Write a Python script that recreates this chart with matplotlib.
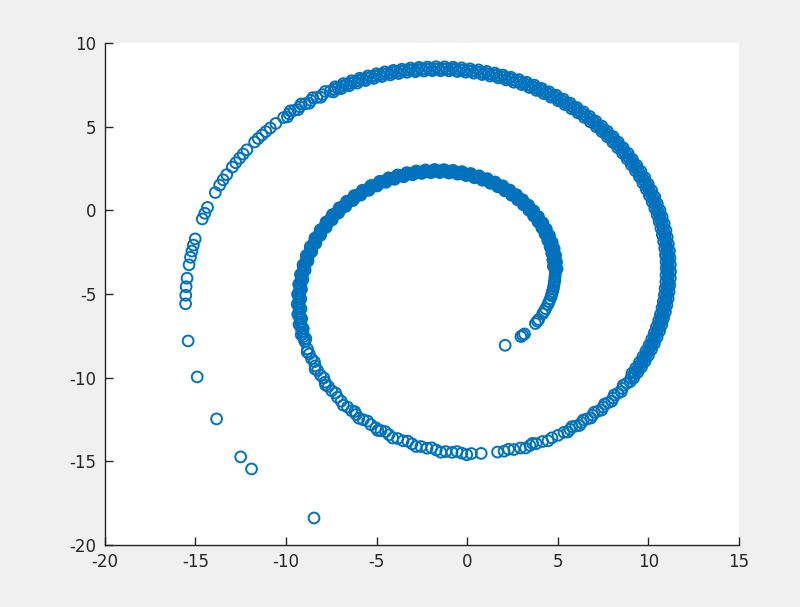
import numpy as np
import matplotlib
matplotlib.use("Agg")
import matplotlib.pyplot as plt

# points, ordered along the spiral (inner end -> outer end)
inner_tail_x = [2.10, 2.97, 3.07, 3.17, 3.77, 3.88, 3.95, 4.17, 4.26, 4.34, 4.46, 4.53,
                4.59, 4.65, 4.68, 4.72, 4.75, 4.78, 4.80, 4.82, 4.84, 4.85, 4.86, 4.87]
inner_tail_y = [-8.06, -7.54, -7.46, -7.38, -6.76, -6.62, -6.52, -6.18, -6.03, -5.87, -5.62, -5.45,
                -5.28, -5.10, -4.97, -4.84, -4.70, -4.56, -4.42, -4.28, -4.14, -3.99, -3.85, -3.71]

inner_band_x = [4.87, 4.87, 4.86, 4.84, 4.81, 4.78, 4.74, 4.69, 4.64, 4.58,
                4.51, 4.43, 4.34, 4.25, 4.15, 4.04, 3.93, 3.81, 3.68, 3.54,
                3.40, 3.25, 3.10, 2.93, 2.76, 2.59, 2.41, 2.22, 2.03, 1.83,
                1.63, 1.42, 1.20, 0.98, 0.76, 0.54, 0.31, 0.07, -0.17, -0.41,
                -0.65, -0.90, -1.14, -1.39, -1.64, -1.90, -2.15, -2.40, -2.66, -2.91,
                -3.16, -3.42, -3.67, -3.92, -4.17, -4.41, -4.66, -4.90, -5.13, -5.37,
                -5.60, -5.82, -6.05, -6.26, -6.47, -6.68, -6.88, -7.08, -7.26, -7.45,
                -7.62, -7.79, -7.95, -8.10, -8.24, -8.38, -8.50, -8.62, -8.73, -8.83,
                -8.92, -9.00, -9.07, -9.13, -9.18, -9.22, -9.25, -9.27, -9.28, -9.28,
                -9.26, -9.24, -9.20, -9.16, -9.10, -9.03, -8.95]
inner_band_y = [-3.61, -3.41, -3.22, -3.02, -2.82, -2.63, -2.43, -2.23, -2.04, -1.84,
                -1.65, -1.46, -1.27, -1.08, -0.89, -0.71, -0.53, -0.35, -0.18, 0.00,
                0.16, 0.33, 0.48, 0.64, 0.78, 0.93, 1.06, 1.20, 1.32, 1.44,
                1.55, 1.66, 1.76, 1.85, 1.94, 2.01, 2.08, 2.15, 2.20, 2.25,
                2.29, 2.32, 2.34, 2.35, 2.36, 2.35, 2.34, 2.32, 2.28, 2.24,
                2.19, 2.14, 2.07, 1.99, 1.91, 1.81, 1.71, 1.60, 1.48, 1.35,
                1.21, 1.06, 0.91, 0.74, 0.57, 0.39, 0.20, 0.01, -0.20, -0.41,
                -0.62, -0.85, -1.08, -1.32, -1.56, -1.81, -2.06, -2.33, -2.59, -2.86,
                -3.13, -3.41, -3.69, -3.98, -4.27, -4.56, -4.85, -5.15, -5.45, -5.75,
                -6.05, -6.35, -6.65, -6.95, -7.25, -7.54, -7.84]

# more circles in the inner band (the band is wider than one circle)
inner_band2_x = [4.97, 4.76, 4.94, 4.73, 4.89, 4.67, 4.81, 4.58, 4.70, 4.45,
                 4.55, 4.30, 4.38, 4.12, 4.18, 3.91, 3.94, 3.67, 3.68, 3.41,
                 3.39, 3.11, 3.07, 2.79, 2.73, 2.45, 2.36, 2.08, 1.97, 1.69,
                 1.55, 1.28, 1.12, 0.85, 0.67, 0.40, 0.20, -0.06, -0.28, -0.53,
                 -0.78, -1.01, -1.28, -1.51, -1.79, -2.00, -2.30, -2.50, -2.81, -3.00,
                 -3.33, -3.50, -3.84, -4.00, -4.34, -4.48, -4.83, -4.96, -5.31, -5.42,
                 -5.78, -5.87, -6.23, -6.30, -6.65, -6.70, -7.06, -7.09, -7.44, -7.45,
                 -7.79, -7.78, -8.11, -8.08, -8.40, -8.35, -8.66, -8.58, -8.88, -8.78,
                 -9.06, -8.94, -9.20, -9.06, -9.30, -9.14, -9.36, -9.18, -9.38, -9.17,
                 -9.35, -9.13, -9.28, -9.04, -9.16, -8.90]
inner_band2_y = [-3.49, -3.34, -3.09, -2.95, -2.69, -2.56, -2.29, -2.18, -1.90, -1.79,
                 -1.50, -1.41, -1.12, -1.04, -0.74, -0.68, -0.37, -0.33, -0.02, 0.01,
                 0.32, 0.33, 0.64, 0.63, 0.94, 0.91, 1.22, 1.17, 1.47, 1.41,
                 1.70, 1.62, 1.90, 1.80, 2.07, 1.95, 2.21, 2.08, 2.32, 2.17,
                 2.40, 2.23, 2.44, 2.26, 2.45, 2.25, 2.42, 2.21, 2.36, 2.13,
                 2.26, 2.01, 2.12, 1.86, 1.95, 1.68, 1.74, 1.46, 1.49, 1.20,
                 1.21, 0.91, 0.89, 0.59, 0.55, 0.24, 0.16, -0.15, -0.25, -0.57,
                 -0.69, -1.01, -1.16, -1.48, -1.65, -1.97, -2.17, -2.48, -2.70, -3.02,
                 -3.26, -3.57, -3.83, -4.13, -4.41, -4.71, -5.01, -5.29, -5.61, -5.88,
                 -6.21, -6.47, -6.82, -7.07, -7.43, -7.66]
inner_band3_x = [4.87, 4.86, 4.84, 4.83, 4.80, 4.76, 4.72, 4.67, 4.61, 4.54,
                 4.46, 4.38, 4.30, 4.20, 4.10, 3.99, 3.87, 3.74, 3.61, 3.48,
                 3.33, 3.17, 3.01, 2.84, 2.68, 2.50, 2.32, 2.12, 1.93, 1.73,
                 1.52, 1.31, 1.09, 0.87, 0.65, 0.42, 0.19, -0.05, -0.29, -0.53,
                 -0.78, -1.02, -1.27, -1.52, -1.77, -2.02, -2.28, -2.53, -2.78, -3.03,
                 -3.29, -3.54, -3.80, -4.05, -4.29, -4.53, -4.78, -5.02, -5.25, -5.48,
                 -5.71, -5.94, -6.16, -6.37, -6.58, -6.78, -6.98, -7.17, -7.36, -7.54,
                 -7.70, -7.87, -8.02, -8.17, -8.31, -8.45, -8.56, -8.68, -8.78, -8.88,
                 -8.96, -9.04, -9.10, -9.16, -9.20, -9.24, -9.26, -9.28, -9.28, -9.27,
                 -9.25, -9.23, -9.18, -9.14, -9.07, -8.99]
inner_band3_y = [-3.51, -3.32, -3.12, -2.92, -2.72, -2.53, -2.33, -2.14, -1.94, -1.74,
                 -1.55, -1.36, -1.18, -0.98, -0.80, -0.62, -0.44, -0.26, -0.09, 0.08,
                 0.24, 0.41, 0.56, 0.71, 0.86, 1.00, 1.13, 1.26, 1.38, 1.50,
                 1.61, 1.71, 1.81, 1.90, 1.97, 2.05, 2.11, 2.18, 2.22, 2.27,
                 2.30, 2.33, 2.34, 2.36, 2.35, 2.35, 2.33, 2.30, 2.27, 2.22,
                 2.17, 2.10, 2.03, 1.95, 1.86, 1.76, 1.66, 1.54, 1.41, 1.28,
                 1.14, 0.98, 0.82, 0.66, 0.49, 0.30, 0.10, -0.09, -0.30, -0.52,
                 -0.74, -0.97, -1.20, -1.44, -1.69, -1.94, -2.20, -2.46, -2.72, -3.00,
                 -3.28, -3.56, -3.84, -4.12, -4.41, -4.71, -5.01, -5.30, -5.60, -5.90,
                 -6.19, -6.49, -6.80, -7.10, -7.40, -7.70]

lower_chain_x = [-8.81, -8.71, -8.59, -8.39, -8.25, -8.09, -7.84, -7.66, -7.47, -7.16,
                 -6.95, -6.60, -6.37, -6.12, -5.73, -5.32, -5.04, -4.75, -4.31, -3.84,
                 -3.53, -3.04, -2.55, -2.21, -1.70, -1.18, -0.83, -0.29, 0.24, 0.78,
                 1.68, 2.04, 2.58, 2.94, 3.47, 3.82, 4.17, 4.68, 5.02]
lower_chain_y = [-8.28, -8.58, -8.86, -9.29, -9.57, -9.85, -10.26, -10.52, -10.78, -11.16,
                 -11.40, -11.75, -11.98, -12.20, -12.51, -12.80, -12.99, -13.16, -13.41, -13.63,
                 -13.77, -13.95, -14.11, -14.21, -14.32, -14.41, -14.46, -14.51, -14.53, -14.52,
                 -14.44, -14.39, -14.29, -14.20, -14.05, -13.94, -13.81, -13.59, -13.44]
lower_chain2_x = [-8.83, -8.43, -8.39, -7.91, -7.81, -7.26, -6.83, -6.20, -5.97, -5.49,
                  -4.93, -4.50, -4.11, -3.27, -2.82, -1.95, -1.45, -0.56, -0.02,
                  2.29, 3.23, 3.61, 4.47]
lower_chain2_y = [-8.46, -9.04, -9.48, -10.01, -10.44, -10.91, -11.64, -12.02, -12.42, -12.59,
                  -13.15, -13.22, -13.60, -13.79, -14.11, -14.19, -14.45, -14.41, -14.60,
                  -14.27, -14.20, -13.92, -13.77]

outer_band_x = [5.35, 5.68, 6.00, 6.32, 6.63, 6.93, 7.22, 7.51, 7.79, 8.06, 8.32, 8.57, 8.81,
                9.04, 9.15, 9.26, 9.37, 9.47, 9.57, 9.67, 9.76, 9.86, 9.94,
                10.03, 10.11, 10.19, 10.27, 10.34, 10.41, 10.48, 10.54, 10.60, 10.66,
                10.71, 10.76, 10.81, 10.85, 10.90, 10.93, 10.97, 11.00, 11.02, 11.04, 11.06,
                11.08, 11.09, 11.10, 11.10, 11.11, 11.10, 11.10, 11.09, 11.07, 11.06,
                11.04, 11.01, 10.98, 10.95, 10.92, 10.88, 10.84, 10.79, 10.74, 10.68,
                10.63, 10.57, 10.50, 10.43, 10.36, 10.29, 10.21, 10.12, 10.04, 9.95,
                9.85, 9.76, 9.66, 9.55, 9.45, 9.33, 9.22, 9.10, 8.98, 8.86,
                8.73, 8.60, 8.47, 8.33, 8.19, 8.05, 7.90, 7.75, 7.60, 7.44,
                7.28, 7.12, 6.96, 6.79, 6.62, 6.45, 6.27, 6.09, 5.91, 5.73,
                5.54, 5.36, 5.17, 4.97, 4.78, 4.58, 4.38, 4.18, 3.98, 3.77,
                3.57, 3.36, 3.15, 2.93, 2.72, 2.50, 2.29, 2.07, 1.85, 1.63,
                1.40, 1.18, 0.95, 0.73, 0.50, 0.27, 0.04, -0.19, -0.42, -0.65,
                -0.88, -1.12, -1.35, -1.58, -1.82, -2.05, -2.28, -2.52, -2.75, -2.99,
                -3.22, -3.46, -3.69, -3.92, -4.16, -4.39, -4.62, -4.85, -5.08, -5.31,
                -5.54, -5.77, -6.00, -6.22, -6.45, -6.67, -6.89, -7.12, -7.33, -7.55,
                -7.98, -8.30, -8.62, -8.93, -9.24, -9.54, -9.83, -10.13]
outer_band_y = [-13.26, -13.08, -12.89, -12.68, -12.46, -12.24, -12.00, -11.75, -11.49, -11.21,
                -10.93, -10.64, -10.34,
                -10.03, -9.87, -9.71, -9.55, -9.39, -9.22, -9.05, -8.88, -8.71, -8.54,
                -8.36, -8.19, -8.01, -7.83, -7.64, -7.46, -7.27, -7.09, -6.90, -6.71,
                -6.52, -6.33, -6.14, -5.94, -5.75, -5.55, -5.36, -5.16, -4.96, -4.76, -4.56,
                -4.36, -4.16, -3.96, -3.76, -3.55, -3.35, -3.15, -2.95, -2.74, -2.54,
                -2.34, -2.14, -1.93, -1.73, -1.53, -1.33, -1.13, -0.93, -0.72, -0.53,
                -0.33, -0.13, 0.07, 0.27, 0.46, 0.66, 0.85, 1.04, 1.23, 1.42,
                1.61, 1.80, 1.99, 2.17, 2.35, 2.53, 2.71, 2.89, 3.07, 3.24,
                3.42, 3.58, 3.75, 3.92, 4.08, 4.25, 4.41, 4.56, 4.72, 4.87,
                5.02, 5.17, 5.31, 5.45, 5.59, 5.73, 5.86, 5.99, 6.12, 6.25,
                6.37, 6.49, 6.60, 6.72, 6.83, 6.93, 7.04, 7.14, 7.23, 7.33,
                7.42, 7.50, 7.59, 7.67, 7.74, 7.81, 7.88, 7.95, 8.01, 8.07,
                8.12, 8.17, 8.21, 8.26, 8.30, 8.33, 8.36, 8.39, 8.41, 8.43,
                8.45, 8.46, 8.47, 8.47, 8.47, 8.46, 8.45, 8.44, 8.42, 8.40,
                8.38, 8.35, 8.31, 8.28, 8.24, 8.19, 8.14, 8.09, 8.03, 7.97,
                7.90, 7.83, 7.76, 7.68, 7.60, 7.52, 7.43, 7.33, 7.24, 7.13,
                6.92, 6.75, 6.57, 6.38, 6.19, 5.98, 5.77, 5.55]
outer_band2_x = [5.56, 5.79, 6.21, 6.42, 6.83, 7.02, 7.43, 7.59, 7.99, 8.12, 8.51, 8.62, 9.00,
                 -7.83, -8.08, -8.52, -8.72, -9.16, -9.33, -9.76, -9.92]
outer_band2_y = [-13.24, -12.92, -12.85, -12.52, -12.41, -12.06, -11.93, -11.57, -11.40,
                 -11.03, -10.83, -10.45, -10.23,
                 7.11, 6.76, 6.74, 6.40, 6.36, 6.02, 5.95, 5.59]

# circles in between, slightly inside / outside the middle of the outer band
outer_band3_x = [9.20, 9.10, 9.42, 9.31, 9.63, 9.51, 9.83, 9.70, 10.01, 9.87,
                 10.18, 10.04, 10.34, 10.19, 10.49, 10.33, 10.63, 10.45, 10.75, 10.57,
                 10.85, 10.67, 10.95, 10.76, 11.03, 10.83, 11.10, 10.89, 11.15, 10.93,
                 11.19, 10.97, 11.22, 10.98, 11.23, 10.99, 11.22, 10.98, 11.20, 10.95,
                 11.17, 10.91, 11.11, 10.85, 11.05, 10.78, 10.98, 10.70, 10.88, 10.60,
                 10.77, 10.49, 10.65, 10.36, 10.50, 10.22, 10.36, 10.06, 10.19, 9.89,
                 10.00, 9.70, 9.81, 9.51, 9.60, 9.29, 9.37, 9.06, 9.13, 8.83,
                 8.89, 8.58, 8.62, 8.31, 8.35, 8.04, 8.06, 7.74, 7.75, 7.44,
                 7.44, 7.13, 7.11, 6.80, 6.77, 6.47, 6.43, 6.12, 6.06, 5.76,
                 5.69, 5.39, 5.32, 5.02, 4.93, 4.63, 4.53, 4.23, 4.12, 3.83,
                 3.71, 3.43, 3.29, 3.01, 2.86, 2.58, 2.42, 2.15, 1.98, 1.72,
                 1.53, 1.27, 1.08, 0.83, 0.63, 0.38, 0.16, -0.08, -0.30, -0.54,
                 -0.77, -1.00, -1.24, -1.46, -1.71, -1.92, -2.18, -2.38, -2.65, -2.85,
                 -3.13, -3.32, -3.60, -3.78, -4.07, -4.24, -4.54, -4.70, -5.00, -5.15,
                 -5.47, -5.61, -5.93, -6.06, -6.38, -6.51, -6.83, -6.95, -7.28, -7.38]
outer_band3_y = [-10.01, -9.73, -9.68, -9.42, -9.36, -9.09, -9.01, -8.75, -8.67, -8.41,
                 -8.31, -8.06, -7.96, -7.70, -7.58, -7.34, -7.21, -6.97, -6.83, -6.59,
                 -6.44, -6.22, -6.06, -5.83, -5.66, -5.45, -5.27, -5.05, -4.86, -4.66,
                 -4.46, -4.26, -4.05, -3.87, -3.65, -3.46, -3.24, -3.07, -2.83, -2.66,
                 -2.42, -2.26, -2.01, -1.86, -1.60, -1.46, -1.20, -1.07, -0.79, -0.66,
                 -0.39, -0.27, 0.01, 0.12, 0.41, 0.51, 0.81, 0.89, 1.19, 1.27,
                 1.57, 1.64, 1.96, 2.02, 2.33, 2.37, 2.69, 2.73, 3.05, 3.08,
                 3.41, 3.42, 3.74, 3.75, 4.08, 4.08, 4.41, 4.40, 4.73, 4.71,
                 5.04, 5.00, 5.33, 5.29, 5.62, 5.56, 5.89, 5.83, 6.15, 6.08,
                 6.41, 6.33, 6.65, 6.56, 6.88, 6.77, 7.09, 6.98, 7.29, 7.17,
                 7.49, 7.35, 7.66, 7.52, 7.82, 7.66, 7.96, 7.80, 8.09, 7.92,
                 8.21, 8.03, 8.31, 8.12, 8.40, 8.20, 8.46, 8.26, 8.52, 8.30,
                 8.56, 8.34, 8.58, 8.35, 8.59, 8.35, 8.57, 8.33, 8.55, 8.29,
                 8.51, 8.25, 8.44, 8.18, 8.37, 8.10, 8.28, 8.00, 8.17, 7.89,
                 8.04, 7.76, 7.90, 7.61, 7.75, 7.45, 7.58, 7.28, 7.39, 7.08]

outer_chain_x = [-10.56, -10.87, -11.11, -11.32, -11.53, -11.73, -12.16, -12.36, -12.56,
                 -12.77, -12.96, -13.27, -13.47, -13.66, -13.90, -14.33, -14.48, -14.62,
                 -15.01, -15.11, -15.19, -15.27, -15.35, -15.46, -15.51, -15.53, -15.54]
outer_chain_y = [5.20, 4.93, 4.71, 4.51, 4.30, 4.09, 3.62, 3.37, 3.12,
                 2.85, 2.59, 2.14, 1.83, 1.51, 1.07, 0.18, -0.17, -0.51,
                 -1.70, -2.07, -2.43, -2.80, -3.25, -4.05, -4.56, -5.07, -5.58]

outer_tail_x = [-15.40, -14.90, -13.83, -12.50, -11.90, -8.45]
outer_tail_y = [-7.80, -9.95, -12.46, -14.73, -15.45, -18.38]

x = np.concatenate([inner_tail_x, inner_band_x, inner_band2_x, inner_band3_x,
                    lower_chain_x, lower_chain2_x,
                    outer_band_x, outer_band2_x, outer_band3_x, outer_chain_x, outer_tail_x])
y = np.concatenate([inner_tail_y, inner_band_y, inner_band2_y, inner_band3_y,
                    lower_chain_y, lower_chain2_y,
                    outer_band_y, outer_band2_y, outer_band3_y, outer_chain_y, outer_tail_y])

plt.rcParams['font.family'] = ['DejaVu Sans']
plt.rcParams['axes.unicode_minus'] = False

fig = plt.figure(figsize=(8, 6.07), dpi=100)
fig.patch.set_facecolor('#f0f0f0')
ax = fig.add_axes([0.131, 0.102, 0.7925, 0.827])
ax.set_facecolor('white')

ax.scatter(x, y, s=60, facecolors='none', edgecolors='#0072BD', linewidths=1.4)

ax.set_xlim(-20, 15)
ax.set_ylim(-20, 10)
ax.set_xticks(np.arange(-20, 16, 5))
ax.set_yticks(np.arange(-20, 11, 5))

axis_color = '#262626'
for side in ['top', 'right']:
    ax.spines[side].set_visible(False)
for side in ['left', 'bottom']:
    ax.spines[side].set_color(axis_color)
    ax.spines[side].set_linewidth(1.0)
ax.tick_params(direction='in', length=6, width=1.0, colors=axis_color,
               labelsize=12, pad=6)

fig.savefig('out.png', dpi=100, facecolor=fig.get_facecolor())
